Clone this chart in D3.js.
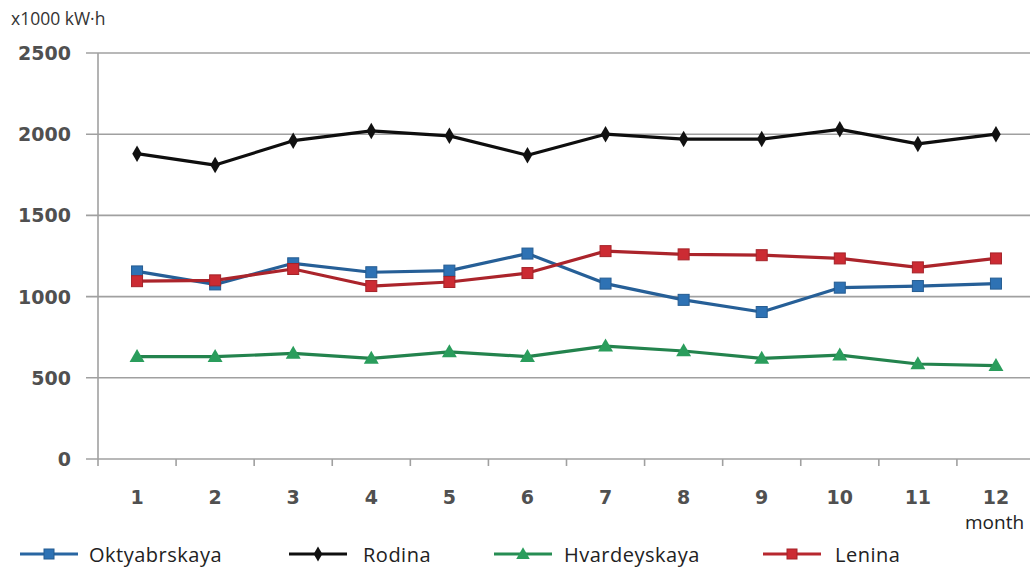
<!DOCTYPE html>
<html><head><meta charset="utf-8">
<script src="https://cdn.jsdelivr.net/npm/d3@7"></script>
<style>body{margin:0;background:#fff}svg{display:block}</style>
</head><body>
<svg id="c" width="1030" height="572"></svg>
<script>
const months = [1,2,3,4,5,6,7,8,9,10,11,12];
const yTicks = [0,500,1000,1500,2000,2500];
const oktyabrskaya = [1155,1075,1205,1150,1160,1265,1080,980,905,1055,1065,1080];
const rodina = [1880,1810,1960,2020,1990,1870,2000,1970,1970,2030,1940,2000];
const hvardeyskaya = [630,630,650,620,660,630,695,665,620,640,585,575];
const lenina = [1095,1100,1170,1065,1090,1145,1280,1260,1255,1235,1180,1235];
const seriesNames = ["Oktyabrskaya","Rodina","Hvardeyskaya","Lenina"];

const series = [
  {name:seriesNames[0], values:oktyabrskaya, color:"#2e72b4", marker:"square"},
  {name:seriesNames[1], values:rodina, color:"#111111", marker:"diamond"},
  {name:seriesNames[2], values:hvardeyskaya, color:"#2a9d5c", marker:"triangle"},
  {name:seriesNames[3], values:lenina, color:"#cc2b33", marker:"square"}
];

const svg = d3.select("#c");
const pLeft = 98, pRight = 1035, pTop = 53, pBottom = 459;
const x = d3.scaleBand().domain(months).range([pLeft, pRight]);
const y = d3.scaleLinear().domain([0,2500]).range([pBottom, pTop]);
const font = "'DejaVu Sans', Verdana, sans-serif";
const sans = "'Open Sans', sans-serif";

// grid lines
svg.append("g").selectAll("line").data(yTicks).join("line")
  .attr("x1", pLeft-12).attr("x2", 1030)
  .attr("y1", d=>y(d)).attr("y2", d=>y(d))
  .attr("stroke", "#a0a0a0").attr("stroke-width", 1.6);

// y axis line
svg.append("line").attr("x1", pLeft).attr("x2", pLeft).attr("y1", pTop).attr("y2", pBottom+7)
  .attr("stroke", "#a0a0a0").attr("stroke-width", 1.6);

// x ticks at band edges
svg.append("g").selectAll("line").data(months).join("line")
  .attr("x1", d=>x(d)+x.bandwidth()).attr("x2", d=>x(d)+x.bandwidth())
  .attr("y1", pBottom).attr("y2", pBottom+7)
  .attr("stroke", "#a0a0a0").attr("stroke-width", 1.6);

// y tick labels
svg.append("g").selectAll("text").data(yTicks).join("text")
  .attr("x", 71).attr("y", d=>y(d)+7).attr("text-anchor","end")
  .attr("font-family", font).attr("font-size", 19).attr("font-weight","bold")
  .attr("fill", "#505050").text(d=>d);

// x tick labels
svg.append("g").selectAll("text").data(months).join("text")
  .attr("x", d=>x(d)+x.bandwidth()/2).attr("y", 504).attr("text-anchor","middle")
  .attr("font-family", font).attr("font-size", 19).attr("font-weight","bold")
  .attr("fill", "#505050").text(d=>d);

svg.append("text").attr("x", 965).attr("y", 529)
  .attr("font-family", sans).attr("font-size", 19).attr("fill", "#222").text("month");
svg.append("text").attr("x", 11).attr("y", 25)
  .attr("font-family", sans).attr("font-size", 17.5).attr("fill", "#333").text("x1000 kW·h");

function drawMarker(g, type, cx, cy, color, s) {
  if (type === "square") {
    g.append("rect").attr("x", cx-s).attr("y", cy-s).attr("width", 2*s).attr("height", 2*s)
      .attr("fill", color).attr("stroke", d3.color(color).darker(0.6)).attr("stroke-width", 1);
  } else if (type === "diamond") {
    g.append("path").attr("d", d3.symbol(d3.symbolDiamond, s*s*2.6)()).attr("transform", `translate(${cx},${cy})`)
      .attr("fill", color);
  } else {
    g.append("path").attr("d", d3.symbol(d3.symbolTriangle, s*s*3.2)()).attr("transform", `translate(${cx},${cy+1})`)
      .attr("fill", color);
  }
}

const line = d3.line().x((d,i)=>x(months[i])+x.bandwidth()/2).y(d=>y(d));
series.forEach(s => {
  const g = svg.append("g");
  g.append("path").datum(s.values).attr("d", line).attr("fill","none")
    .attr("stroke", d3.color(s.color).darker(0.5)).attr("stroke-width", 3.2).attr("stroke-linejoin","round");
  s.values.forEach((v,i) => drawMarker(g, s.marker, x(months[i])+x.bandwidth()/2, y(v), s.color, 5.5));
});

// legend
const legX = [20, 289, 494, 763];
const legTextX = [89, 363, 564, 835];
series.forEach((s,i) => {
  const g = svg.append("g");
  const ly = 554;
  g.append("line").attr("x1", legX[i]).attr("x2", legX[i]+58).attr("y1", ly).attr("y2", ly)
    .attr("stroke", d3.color(s.color).darker(0.3)).attr("stroke-width", 3.2);
  drawMarker(g, s.marker, legX[i]+29, ly, s.color, 5);
  g.append("text").attr("x", legTextX[i]).attr("y", ly+8)
    .attr("font-family", sans).attr("font-size", 20).attr("letter-spacing", 0.5).attr("fill", "#222")
    .text(s.name);
});
</script>
</body></html>
